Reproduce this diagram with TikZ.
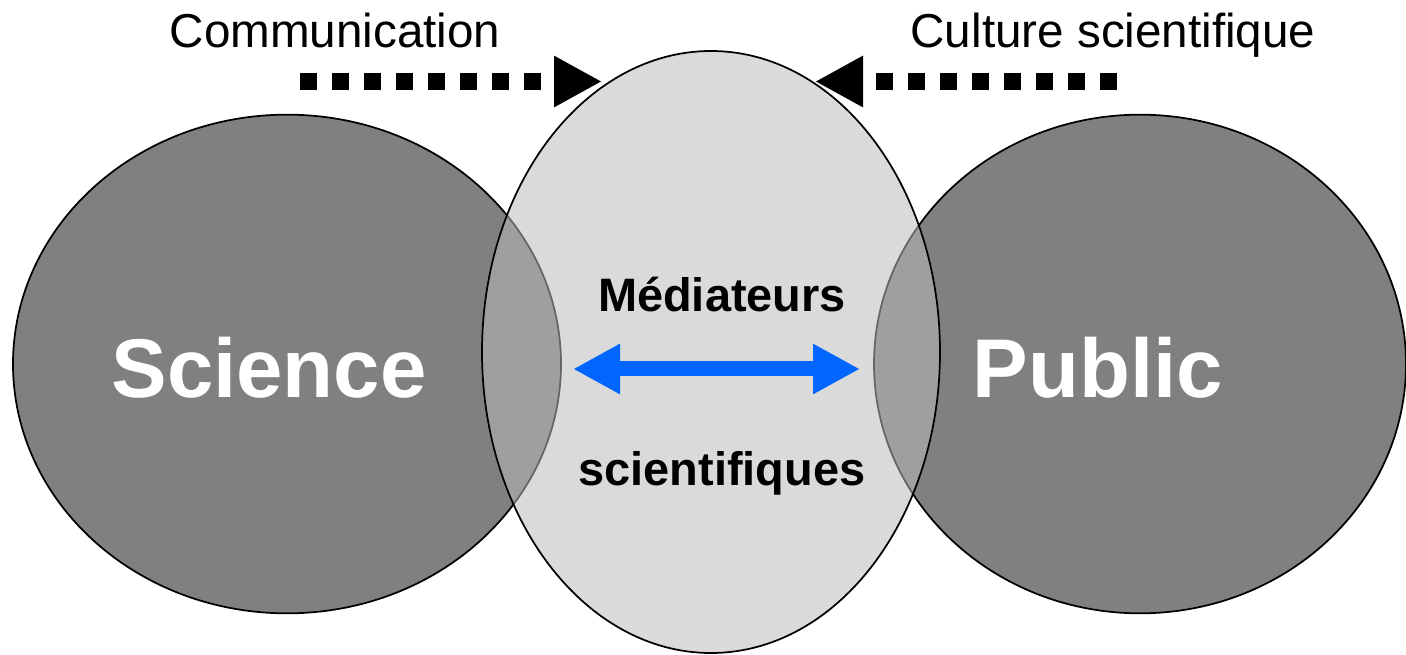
\documentclass[tikz,border=0pt]{standalone}
\usepackage{fontspec}
\setmainfont{Liberation Sans}
\usetikzlibrary{arrows.meta,shapes.geometric}
\definecolor{medblue}{RGB}{0,102,255}
\definecolor{darkdisc}{RGB}{128,128,128}
\definecolor{lightdisc}{RGB}{187,187,187}
\tikzset{
    disc/.style={ellipse,draw=black,line width=1.3pt,fill=darkdisc,inner sep=0pt,text=white,font=\fontsize{62.5pt}{70pt}\selectfont\bfseries},
    middisc/.style={ellipse,draw=black,line width=1.3pt,fill=lightdisc,fill opacity=.54,draw opacity=1,inner sep=0pt},
    toptext/.style={anchor=base,font=\fontsize{35.7pt}{40pt}\selectfont},
    midtext/.style={anchor=base,font=\fontsize{35.2pt}{40pt}\selectfont\bfseries},
    squares/.style={line width=12.75pt,dash pattern=on 12.75pt off 11.25pt,-{Triangle[length=36pt,width=36pt]}},
}
\begin{document}
\begin{tikzpicture}[x=0.75pt,y=-0.75pt]
    \useasboundingbox (0,0) rectangle (1406,655);
    \node[disc,minimum width=411pt,minimum height=374pt] (sci) at (287,364) {};
    \node[disc,minimum width=399pt,minimum height=374pt] (pub) at (1140,364) {};
    \node[middisc,minimum width=343.5pt,minimum height=451.5pt] (med) at (711,352) {};
    \node[anchor=base,text=white,font=\fontsize{62.5pt}{70pt}\selectfont\bfseries] (scitxt) at (269,398) {Science};
    \node[anchor=base,text=white,font=\fontsize{62.5pt}{70pt}\selectfont\bfseries] (pubtxt) at (1098,398) {Public};
    \node[midtext] (medA) at (722,312) {Médiateurs};
    \node[midtext] (medB) at (722,485) {scientifiques};
    \node[toptext] (com) at (335,48) {Communication};
    \node[toptext] (cult) at (1113,48) {Culture scientifique};
    % double arrow
    \coordinate (bL) at (573,369);
    \coordinate (bR) at (860,369);
    \draw[medblue,line width=11.25pt,{Triangle[length=35.25pt,width=35.25pt]}-{Triangle[length=35.25pt,width=35.25pt]}] (bL)--(bR);
    % dotted arrows
    \coordinate (dL) at (300,81.5);
    \coordinate (dLtip) at (602,81.5);
    \coordinate (dR) at (1117,81.5);
    \coordinate (dRtip) at (815,81.5);
    \draw[squares] (dL)--(dLtip);
    \draw[squares] (dR)--(dRtip);
\end{tikzpicture}
\end{document}
